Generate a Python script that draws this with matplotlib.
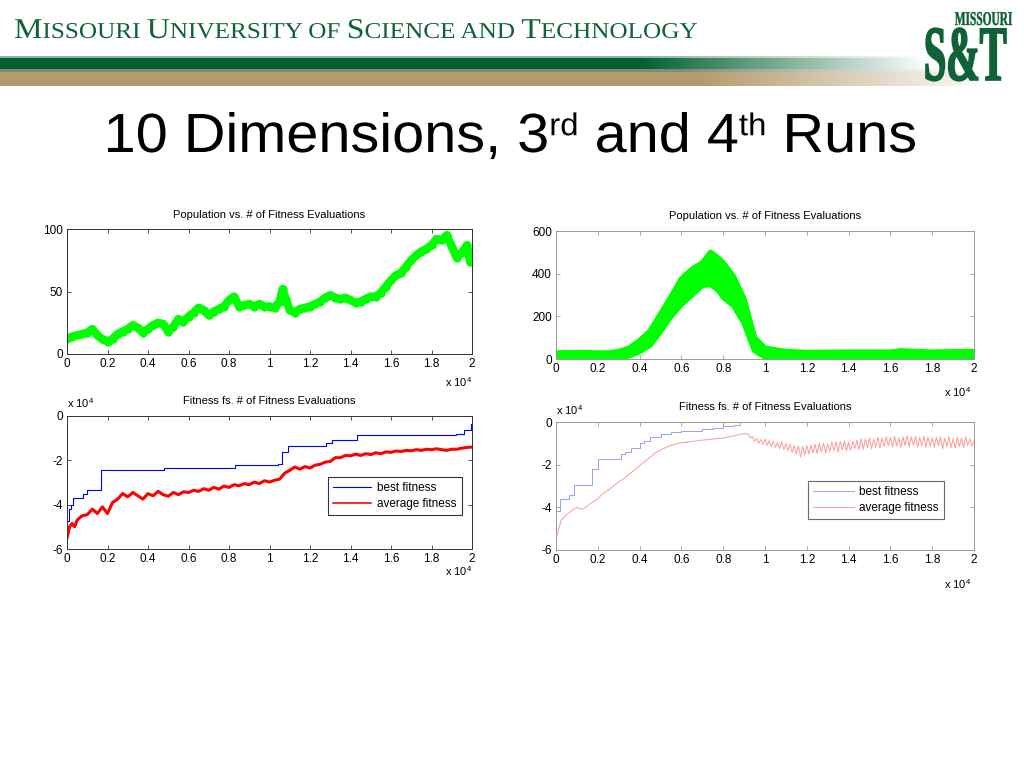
import numpy as np
import matplotlib
matplotlib.use("Agg")
from matplotlib import pyplot as plt
from matplotlib.textpath import TextPath
from matplotlib.patches import PathPatch
from matplotlib.font_manager import FontProperties
from matplotlib.transforms import Affine2D

plt.rcParams['font.family'] = ['Liberation Sans', 'DejaVu Sans']
plt.rcParams['mathtext.fontset'] = 'custom'
plt.rcParams['mathtext.rm'] = 'Liberation Sans'
plt.rcParams['mathtext.it'] = 'Liberation Sans'

# ---------- data (x in units of 10^4 fitness evaluations, fitness in units of 10^4) ----------
pop3_x = [0, 0.025, 0.05, 0.075, 0.1, 0.125, 0.15, 0.175, 0.2, 0.225, 0.25, 0.275, 0.3, 0.325,
          0.35, 0.375, 0.4, 0.425, 0.45, 0.475, 0.5, 0.525, 0.55, 0.575, 0.6, 0.625, 0.65, 0.675,
          0.7, 0.725, 0.75, 0.775, 0.8, 0.825, 0.85, 0.875, 0.9, 0.925, 0.95, 0.975, 1.0, 1.025,
          1.05, 1.065, 1.08, 1.1, 1.125, 1.15, 1.175, 1.2, 1.225, 1.25, 1.275, 1.3, 1.325, 1.35,
          1.375, 1.4, 1.425, 1.45, 1.475, 1.5, 1.525, 1.55, 1.575, 1.6, 1.625, 1.65, 1.675, 1.7,
          1.725, 1.75, 1.775, 1.8, 1.825, 1.85, 1.875, 1.9, 1.925, 1.95, 1.975, 1.99, 2.0]
pop3_y = [12, 14, 15, 16, 17, 20, 15, 12, 10, 12, 16, 18, 20, 23,
          21, 17, 20, 23, 25, 24, 18, 22, 28, 26, 30, 33, 37, 35,
          31, 34, 36, 38, 43, 46, 38, 39, 40, 38, 40, 38, 38, 37,
          42, 52, 44, 35, 33, 36, 37, 38, 40, 42, 45, 47, 45, 44,
          45, 43, 41, 42, 44, 46, 46, 49, 54, 59, 63, 65, 70, 75,
          79, 82, 84, 87, 92, 91, 95, 86, 77, 81, 87, 74, 78]

best3_x = [0, 0.01, 0.02, 0.03, 0.08, 0.1, 0.17, 0.48, 0.83, 1.04, 1.06, 1.09, 1.28, 1.31,
           1.43, 1.92, 1.96, 1.995, 2.0]
best3_y = [-4.75, -4.2, -4.0, -3.72, -3.5, -3.35, -2.45, -2.35, -2.23, -2.18, -1.61, -1.37,
           -1.24, -1.08, -0.85, -0.8, -0.65, -0.37, -0.37]

avg3_x = [0, 0.0125, 0.025, 0.0375, 0.05, 0.075, 0.1, 0.125, 0.15, 0.175, 0.2, 0.225, 0.25,
          0.275, 0.3, 0.325, 0.35, 0.375, 0.4, 0.425, 0.45, 0.475, 0.5, 0.525, 0.55, 0.575,
          0.6, 0.625, 0.65, 0.675, 0.7, 0.725, 0.75, 0.775, 0.8, 0.825, 0.85, 0.875, 0.9,
          0.925, 0.95, 0.975, 1.0, 1.025, 1.05, 1.075, 1.1, 1.125, 1.15, 1.175, 1.2, 1.225,
          1.25, 1.275, 1.3, 1.325, 1.35, 1.375, 1.4, 1.425, 1.45, 1.475, 1.5, 1.525, 1.55,
          1.575, 1.6, 1.625, 1.65, 1.675, 1.7, 1.725, 1.75, 1.775, 1.8, 1.825, 1.85, 1.875,
          1.9, 1.925, 1.95, 1.975, 2.0]
avg3_y = [-5.5, -5.0, -4.85, -5.0, -4.7, -4.5, -4.45, -4.2, -4.4, -4.1, -4.4, -3.9, -3.75,
          -3.5, -3.65, -3.45, -3.6, -3.75, -3.5, -3.6, -3.4, -3.55, -3.62, -3.45, -3.55, -3.42,
          -3.45, -3.35, -3.4, -3.28, -3.35, -3.22, -3.3, -3.16, -3.22, -3.1, -3.15, -3.05, -3.1,
          -2.98, -3.05, -2.92, -2.98, -2.9, -2.85, -2.58, -2.45, -2.3, -2.4, -2.28, -2.35, -2.22,
          -2.18, -2.08, -2.05, -1.88, -1.88, -1.78, -1.8, -1.72, -1.78, -1.7, -1.74, -1.66, -1.7,
          -1.62, -1.64, -1.58, -1.6, -1.55, -1.57, -1.52, -1.55, -1.5, -1.52, -1.48, -1.52, -1.55,
          -1.5, -1.5, -1.45, -1.42, -1.4]

pop4_x = [0, 0.1, 0.2, 0.25, 0.3, 0.35, 0.4, 0.45, 0.5, 0.55, 0.6, 0.65, 0.7, 0.74, 0.78,
          0.8, 0.85, 0.9, 0.93, 0.95, 1.0, 1.1, 1.2, 1.4, 1.6, 1.65, 1.8, 2.0]
pop4_lo = [5, 8, 8, 8, 8, 15, 35, 65, 130, 200, 256, 300, 345, 350, 320, 290, 250, 170, 90,
           40, 10, 8, 8, 8, 8, 10, 8, 8]
pop4_hi = [28, 30, 28, 28, 35, 50, 85, 130, 210, 290, 375, 420, 450, 500, 470, 450, 385, 280,
           170, 100, 50, 35, 30, 32, 32, 38, 32, 35]

best4_x = [0, 0.02, 0.06, 0.085, 0.17, 0.2, 0.31, 0.33, 0.36, 0.4, 0.42, 0.45, 0.5, 0.55,
           0.6, 0.7, 0.75, 0.8, 0.85, 0.88, 2.0]
best4_y = [-4.15, -3.6, -3.4, -2.95, -2.2, -1.75, -1.5, -1.4, -1.2, -1.0, -0.9, -0.68, -0.55,
           -0.45, -0.4, -0.35, -0.3, -0.2, -0.15, -0.02, -0.02]

# run 4 average fitness: rising part, then the noisy plateau sampled every 0.01
avg4_rise_x = [0, 0.025, 0.05, 0.075, 0.1, 0.125, 0.15, 0.175, 0.2, 0.225, 0.25, 0.275, 0.3,
               0.325, 0.35, 0.375, 0.4, 0.425, 0.45, 0.475, 0.5, 0.525, 0.55, 0.575, 0.6, 0.65,
               0.7, 0.75, 0.8, 0.85, 0.9, 0.91]
avg4_rise_y = [-5.5, -4.6, -4.35, -4.15, -4.0, -4.1, -3.95, -3.75, -3.6, -3.35, -3.2, -3.0,
               -2.8, -2.65, -2.45, -2.25, -2.05, -1.85, -1.65, -1.45, -1.3, -1.2, -1.1, -1.02,
               -0.97, -0.92, -0.85, -0.8, -0.75, -0.65, -0.55, -0.55]
avg4_noise_x = np.round(np.arange(0.92, 2.0001, 0.01), 2)
avg4_noise_y = [-0.58, -0.75, -0.68, -0.9, -0.78, -1.0, -0.82, -1.05, -0.8, -1.1,
                -0.88, -1.15, -0.9, -1.2, -0.95, -1.25, -0.92, -1.3, -1.0, -1.35,
                -1.05, -1.42, -1.1, -1.5, -1.12, -1.65, -1.15, -1.55, -1.1, -1.5,
                -1.08, -1.45, -1.05, -1.48, -1.0, -1.4, -0.98, -1.45, -1.02, -1.38,
                -0.95, -1.35, -0.92, -1.42, -0.9, -1.3, -0.88, -1.35, -0.95, -1.32,
                -0.9, -1.25, -0.85, -1.3, -0.78, -1.28, -0.8, -1.2, -0.75, -1.25,
                -0.82, -1.18, -0.72, -1.2, -0.75, -1.15, -0.7, -1.1, -0.72, -1.18,
                -0.68, -1.12, -0.75, -1.2, -0.7, -1.1, -0.65, -1.15, -0.7, -1.1,
                -0.68, -1.18, -0.72, -1.12, -0.66, -1.2, -0.7, -1.15, -0.75, -1.2,
                -0.72, -1.1, -0.7, -1.25, -0.75, -1.15, -0.68, -1.2, -0.78, -1.22,
                -0.72, -1.15, -0.75, -1.2, -0.7, -1.1, -0.78, -1.12, -0.9]
avg4_x = list(avg4_rise_x) + list(avg4_noise_x)
avg4_y = list(avg4_rise_y) + list(avg4_noise_y)

XTICK_LABELS = ['0', '0.2', '0.4', '0.6', '0.8', '1', '1.2', '1.4', '1.6', '1.8', '2']

GREEN_UNI = '#0f6236'
W, H = 1024, 768

fig = plt.figure(figsize=(10.24, 7.68), dpi=100)
fig.patch.set_facecolor('white')

# background axes in pixel units (y up)
bg = fig.add_axes([0, 0, 1, 1])
bg.axis('off')


def fade_band(y_top, y_bot, color, x_solid, x_end):
    xs = np.arange(W)
    alpha = np.clip((x_end - xs) / (x_end - x_solid), 0, 1)
    img = np.zeros((1, W, 4))
    img[0, :, :3] = matplotlib.colors.to_rgb(color)
    img[0, :, 3] = alpha
    bg.imshow(img, extent=(0, W, H - y_bot, H - y_top), aspect='auto', interpolation='bilinear')


fade_band(56, 58, '#8fb59c', 640, 930)
fade_band(58, 69, '#00602f', 640, 930)
fade_band(69, 72, '#7f8b7f', 680, 960)
fade_band(72, 86, '#b49b6c', 700, 990)
bg.set_xlim(0, W)
bg.set_ylim(0, H)


def path_text(pieces, x0, baseline, width, top, color, family, weight='normal', lw=0):
    # pieces: (text, size px, rise px); laid out, then scaled to the target width / cap height
    prop = FontProperties(family=family, weight=weight)
    paths = []
    x = 0
    for s, size, rise in pieces:
        tp = TextPath((x, rise), s, size=size, prop=prop)
        paths.append(tp)
        with_bar = TextPath((0, 0), s + '|', size=size, prop=prop).get_extents()
        bar = TextPath((0, 0), '|', size=size, prop=prop).get_extents()
        x += with_bar.x1 - bar.x1
    ext = [p.get_extents() for p in paths]
    xmin = min(e.x0 for e in ext)
    xmax = max(e.x1 for e in ext)
    ymax = max(e.y1 for e in ext)
    tr = Affine2D().translate(-xmin, 0).scale(width / (xmax - xmin), top / ymax)
    tr = tr.translate(x0, H - baseline)
    for p in paths:
        bg.add_patch(PathPatch(tr.transform_path(p), facecolor=color,
                               edgecolor=color if lw else 'none', lw=lw))


# university header in small caps
big, small = 30, 23.7
path_text([('M', big, 0), ('ISSOURI ', small, 0), ('U', big, 0), ('NIVERSITY OF ', small, 0),
           ('S', big, 0), ('CIENCE AND ', small, 0), ('T', big, 0), ('ECHNOLOGY', small, 0)],
          15, 38, 682, 19, GREEN_UNI, 'Liberation Serif')

# logo
path_text([('MISSOURI', 19, 0)], 955, 25, 57, 13, GREEN_UNI, 'Liberation Serif', 'bold', 0.3)
path_text([('S&T', 72, 0)], 926, 80, 80, 52, GREEN_UNI, 'Liberation Serif', 'bold', 1.2)

# slide title
path_text([('10 Dimensions, 3', 56, 0), ('rd', 32, 17), (' and 4', 56, 0), ('th', 32, 17),
           (' Runs', 56, 0)], 108, 152, 807, 40, 'black', 'Liberation Sans')


def box(x0, y0, x1, y1):
    return [x0 / W, 1 - y1 / H, (x1 - x0) / W, (y1 - y0) / H]


def matlab_axes(rect, ylim, yticks, spine_color):
    ax = fig.add_axes(rect)
    ax.set_xlim(0, 2)
    ax.set_ylim(*ylim)
    ax.set_xticks(np.arange(0, 2.01, 0.2))
    ax.set_xticklabels(XTICK_LABELS)
    ax.set_yticks(yticks)
    ax.set_yticklabels([f'{v:g}' for v in yticks])
    ax.tick_params(direction='in', top=True, right=True, length=3, width=0.6,
                   labelsize=8.5, pad=3, colors='black')
    ax.tick_params(axis='both', color=spine_color)
    for sp in ax.spines.values():
        sp.set_color(spine_color)
        sp.set_linewidth(0.7)
    return ax


TITLE_FS = 8
POP_TITLE = 'Population vs. # of Fitness Evaluations'
FIT_TITLE = 'Fitness fs. # of Fitness Evaluations'


def fig_label(x, y, s, **kw):
    fig.text(x / W, 1 - y / H, s, **kw)


# ---- top left: population, run 3 ----
ax1 = matlab_axes(box(67, 229, 472, 354), (0, 100), [0, 50, 100], '#333333')
ax1.plot(pop3_x, pop3_y, color='#00ff00', lw=6, marker='o', ms=5, solid_joinstyle='round')
fig_label(269, 215, POP_TITLE, ha='center', va='center', fontsize=TITLE_FS)
fig_label(445, 387, r'x 10$^4$', fontsize=8)

# ---- bottom left: fitness, run 3 ----
ax2 = matlab_axes(box(67, 416, 472, 549), (-6, 0), [-6, -4, -2, 0], '#333333')
ax2.step(best3_x, best3_y, where='post', color='#0000ff', lw=0.8, label='best fitness')
ax2.plot(avg3_x, avg3_y, color='#ff0000', lw=2.2, label='average fitness')
leg = ax2.legend(loc='upper left', bbox_to_anchor=(0.644, 0.54), fontsize=8.5, frameon=True,
                 fancybox=False, edgecolor='black', handlelength=3.2, borderpad=0.45,
                 labelspacing=0.3, handletextpad=0.5, borderaxespad=0)
leg.get_frame().set_linewidth(0.8)
leg.get_lines()[1].set_linewidth(1.2)
fig_label(269, 401, FIT_TITLE, ha='center', va='center', fontsize=TITLE_FS)
fig_label(67, 408, r'x 10$^4$', fontsize=8)
fig_label(445, 576, r'x 10$^4$', fontsize=8)

# ---- top right: population, run 4 ----
ax3 = matlab_axes(box(556, 231, 974, 359), (0, 600), [0, 200, 400, 600], '#999999')
ax3.fill_between(pop4_x, pop4_lo, pop4_hi, color='#00ff00', lw=0)
ax3.plot(pop4_x, pop4_lo, color='#00ff00', lw=4, solid_joinstyle='round')
ax3.plot(pop4_x, pop4_hi, color='#00ff00', lw=4, solid_joinstyle='round')
fig_label(765, 216, POP_TITLE, ha='center', va='center', fontsize=TITLE_FS)
fig_label(944, 397, r'x 10$^4$', fontsize=8)

# ---- bottom right: fitness, run 4 ----
ax4 = matlab_axes(box(556, 422, 974, 550), (-6, 0), [-6, -4, -2, 0], '#999999')
ax4.step(best4_x, best4_y, where='post', color='#8c8cff', lw=0.6, label='best fitness')
ax4.plot(avg4_x, avg4_y, color='#ff9a9a', lw=0.7, label='average fitness')
leg = ax4.legend(loc='upper left', bbox_to_anchor=(0.603, 0.54), fontsize=8.5, frameon=True,
                 fancybox=False, edgecolor='#444444', handlelength=3.4, borderpad=0.45,
                 labelspacing=0.3, handletextpad=0.5, borderaxespad=0)
leg.get_frame().set_linewidth(0.8)
fig_label(765, 407, FIT_TITLE, ha='center', va='center', fontsize=TITLE_FS)
fig_label(556, 415, r'x 10$^4$', fontsize=8)
fig_label(944, 589, r'x 10$^4$', fontsize=8)

fig.savefig('out.png', dpi=100, facecolor='white')
